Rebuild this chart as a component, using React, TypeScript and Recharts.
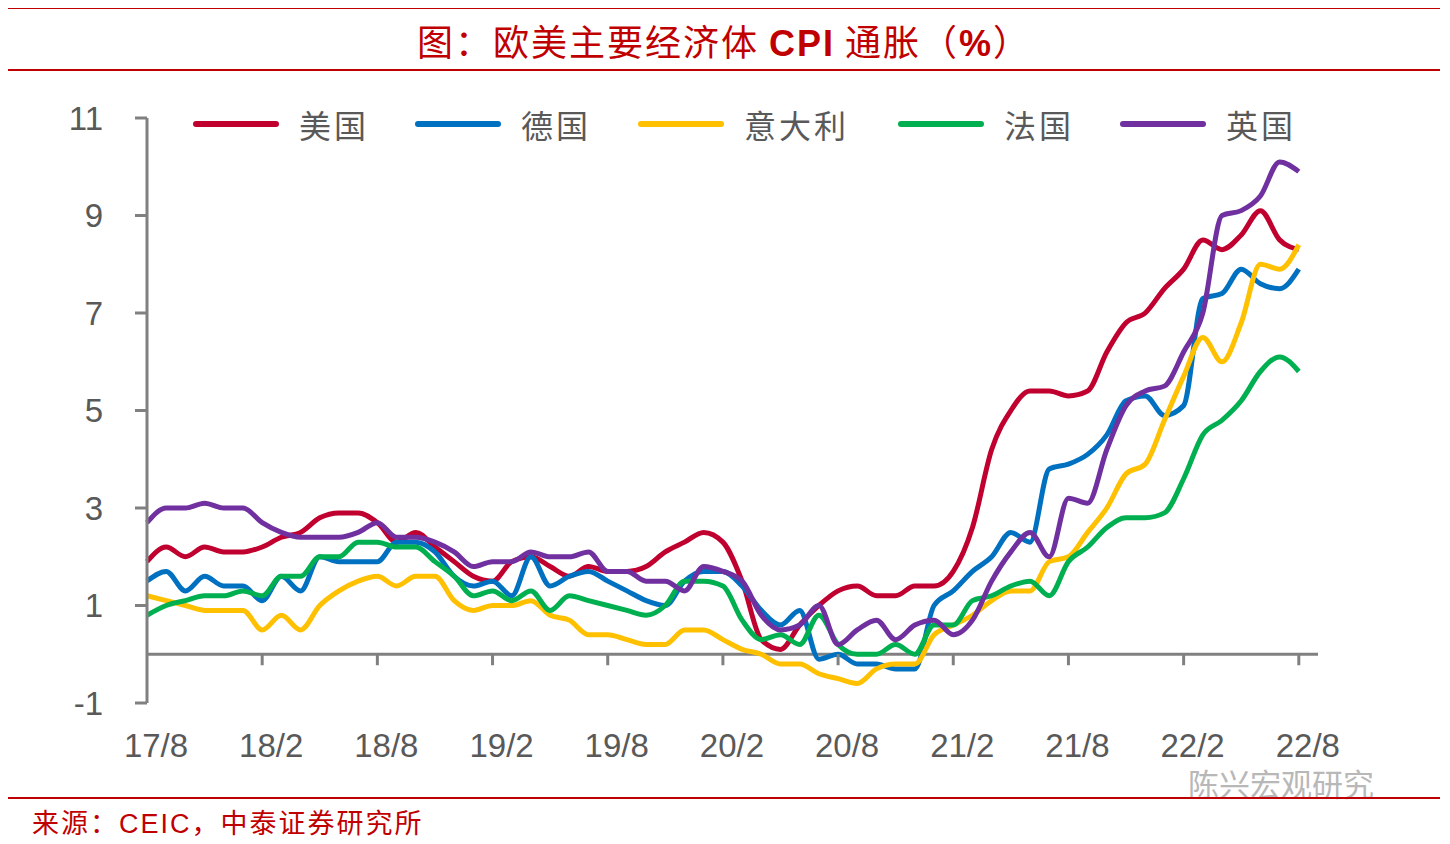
import { Line, LineChart, ReferenceLine, XAxis, YAxis } from "recharts";

const months = [
  "17/8","17/9","17/10","17/11","17/12","18/1","18/2","18/3","18/4","18/5","18/6","18/7",
  "18/8","18/9","18/10","18/11","18/12","19/1","19/2","19/3","19/4","19/5","19/6","19/7",
  "19/8","19/9","19/10","19/11","19/12","20/1","20/2","20/3","20/4","20/5","20/6","20/7",
  "20/8","20/9","20/10","20/11","20/12","21/1","21/2","21/3","21/4","21/5","21/6","21/7",
  "21/8","21/9","21/10","21/11","21/12","22/1","22/2","22/3","22/4","22/5","22/6","22/7","22/8",
];
const us = [1.9,2.2,2.0,2.2,2.1,2.1,2.2,2.4,2.5,2.8,2.9,2.9,2.7,2.3,2.5,2.2,1.9,1.6,1.5,1.9,2.0,1.8,1.6,1.8,1.7,1.7,1.8,2.1,2.3,2.5,2.3,1.5,0.3,0.1,0.6,1.0,1.3,1.4,1.2,1.2,1.4,1.4,1.7,2.6,4.2,5.0,5.4,5.4,5.3,5.4,6.2,6.8,7.0,7.5,7.9,8.5,8.3,8.6,9.1,8.5,8.3];
const de = [1.5,1.7,1.3,1.6,1.4,1.4,1.1,1.6,1.3,2.0,1.9,1.9,1.9,2.3,2.3,2.1,1.6,1.4,1.5,1.2,2.0,1.4,1.6,1.7,1.5,1.3,1.1,1.0,1.5,1.7,1.7,1.4,0.9,0.6,0.9,-0.1,0.0,-0.2,-0.2,-0.3,-0.3,1.0,1.3,1.7,2.0,2.5,2.3,3.8,3.9,4.1,4.5,5.2,5.3,4.9,5.1,7.3,7.4,7.9,7.6,7.5,7.9];
const it = [1.2,1.1,1.0,0.9,0.9,0.9,0.5,0.8,0.5,1.0,1.3,1.5,1.6,1.4,1.6,1.6,1.1,0.9,1.0,1.0,1.1,0.8,0.7,0.4,0.4,0.3,0.2,0.2,0.5,0.5,0.3,0.1,0.0,-0.2,-0.2,-0.4,-0.5,-0.6,-0.3,-0.2,-0.2,0.4,0.6,0.8,1.1,1.3,1.3,1.9,2.0,2.5,3.0,3.7,3.9,4.8,5.7,6.5,6.0,6.8,8.0,7.9,8.4];
const fr = [0.8,1.0,1.1,1.2,1.2,1.3,1.2,1.6,1.6,2.0,2.0,2.3,2.3,2.2,2.2,1.9,1.6,1.2,1.3,1.1,1.3,0.9,1.2,1.1,1.0,0.9,0.8,1.0,1.5,1.5,1.4,0.7,0.3,0.4,0.2,0.8,0.2,0.0,0.0,0.2,0.0,0.6,0.6,1.1,1.2,1.4,1.5,1.2,1.9,2.2,2.6,2.8,2.8,2.9,3.6,4.5,4.8,5.2,5.8,6.1,5.8];
const uk = [2.7,3.0,3.0,3.1,3.0,3.0,2.7,2.5,2.4,2.4,2.4,2.5,2.7,2.4,2.4,2.3,2.1,1.8,1.9,1.9,2.1,2.0,2.0,2.1,1.7,1.7,1.5,1.5,1.3,1.8,1.7,1.5,0.8,0.5,0.6,1.0,0.2,0.5,0.7,0.3,0.6,0.7,0.4,0.7,1.5,2.1,2.5,2.0,3.2,3.1,4.2,5.1,5.4,5.5,6.2,7.0,9.0,9.1,9.4,10.1,9.9];

const seriesNames = ["美国", "德国", "意大利", "法国", "英国"];
const seriesKeys = ["us", "de", "it", "fr", "uk"];
const seriesColors = ["#C0002F", "#0070C0", "#FFC000", "#00B050", "#7030A0"];
const xTicks = [0, 6, 12, 18, 24, 30, 36, 42, 48, 54, 60];
const yTicks = [-1, 1, 3, 5, 7, 9, 11];

const data = months.map((m, i) => ({ i, m, us: us[i], de: de[i], it: it[i], fr: fr[i], uk: uk[i] }));

const RED = "#C00000";
const AXIS = "#808080";
const TXT = "#595959";
const PLOT_TOP = 110;
const PLOT_BOTTOM = 695;
const zeroY = PLOT_BOTTOM - (PLOT_BOTTOM - PLOT_TOP) / 12;

function XTick(props: any) {
  const { x, payload } = props;
  return (
    <g>
      {payload.value !== 0 && (
        <line x1={x} x2={x} y1={zeroY} y2={zeroY + 11} stroke={AXIS} strokeWidth={3} />
      )}
      <text x={x + 9} y={740} textAnchor="middle" dominantBaseline="middle" fill={TXT}
        fontSize={33} fontFamily="Liberation Sans, Arial">
        {months[payload.value]}
      </text>
    </g>
  );
}

const legendX = [185, 407, 630, 890, 1112];

export default function App() {
  return (
    <div style={{ position: "relative", width: 1434, height: 828, background: "#fff" }}>
      <div style={{ position: "absolute", left: 0, top: -4, width: 1432, height: 5, background: RED }} />
      <div style={{ position: "absolute", left: 0, top: 8, width: 1432, textAlign: "center",
        color: RED, fontSize: 36, fontFamily: "Noto Sans CJK SC", letterSpacing: 2, lineHeight: "48px" }}>
        图：欧美主要经济体 <b style={{ fontFamily: "Liberation Sans, Arial" }}>CPI</b> 通胀（<b style={{ fontFamily: "Liberation Sans, Arial" }}>%</b>）
      </div>
      <div style={{ position: "absolute", left: 0, top: 61, width: 1432, height: 2, background: RED }} />
      <LineChart width={1434} height={790} data={data}
        margin={{ top: PLOT_TOP, right: 124, bottom: 35, left: 39 }}
        style={{ position: "absolute", left: 0, top: 0 }}>
        <XAxis dataKey="i" type="number" domain={[0, 61]} ticks={xTicks} interval={0}
          axisLine={false} tickLine={false} height={60} tick={<XTick />} />
        <YAxis domain={[-1, 11]} ticks={yTicks} interval={0} width={100}
          axisLine={{ stroke: AXIS, strokeWidth: 3 }}
          tickLine={{ stroke: AXIS, strokeWidth: 3 }} tickSize={12} tickMargin={32}
          tick={{ fill: TXT, fontSize: 33, fontFamily: "Liberation Sans, Arial" }} />
        <ReferenceLine y={0} stroke={AXIS} strokeWidth={3} />
        {seriesKeys.map((k, idx) => (
          <Line key={k} dataKey={k} name={seriesNames[idx]} type="monotone"
            stroke={seriesColors[idx]} strokeWidth={5} dot={false} isAnimationActive={false} />
        ))}
      </LineChart>
      {seriesNames.map((n, k) => (
        <div key={n} style={{ position: "absolute", left: legendX[k], top: 96, height: 40,
          display: "flex", alignItems: "center" }}>
          <div style={{ width: 86, height: 6, borderRadius: 3, background: seriesColors[k] }} />
          <span style={{ marginLeft: 20, color: TXT, fontSize: 32, fontFamily: "Noto Sans CJK SC",
            letterSpacing: 3 }}>{n}</span>
        </div>
      ))}
      <div style={{ position: "absolute", left: 1180, top: 758, color: "#b8b8b8", fontSize: 31,
        fontFamily: "Noto Sans CJK SC", lineHeight: "34px" }}>
        陈兴宏观研究
      </div>
      <div style={{ position: "absolute", left: 0, top: 789, width: 1432, height: 2, background: RED }} />
      <div style={{ position: "absolute", left: 24, top: 794, color: RED, fontSize: 27,
        fontFamily: "Noto Sans CJK SC", letterSpacing: 2 }}>
        来源：<span style={{ fontFamily: "Liberation Sans, Arial" }}>CEIC</span>，中泰证券研究所
      </div>
    </div>
  );
}
